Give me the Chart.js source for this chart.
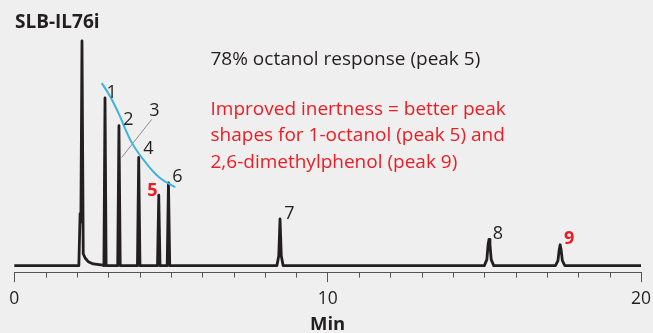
<!DOCTYPE html>
<html><head><meta charset="utf-8">
<script src="https://cdn.jsdelivr.net/npm/chart.js@4.4.1/dist/chart.umd.min.js"></script>
<style>
html,body{margin:0;padding:0;background:#efefef;}
#wrap{width:653px;height:333px;position:relative;}
</style>
</head><body><div id="wrap"><canvas id="c" width="653" height="333"></canvas></div>
<script>
// ---- data (time in min, detector signal in arbitrary units) ----
const traceTime = [0, 2.06, 2.10, 2.125, 2.16, 2.20, 2.26, 2.36, 2.52, 2.83,
  2.86, 2.895, 2.93, 3.30, 3.34, 3.38, 3.93, 3.97, 4.01, 4.57, 4.61, 4.65,
  4.88, 4.92, 4.96, 8.38, 8.44, 8.48, 8.52, 8.58,
  15.0, 15.08, 15.12, 15.15, 15.18, 15.22, 15.3,
  17.27, 17.35, 17.39, 17.42, 17.45, 17.49, 17.57, 20];
const traceSignal = [0, 0, 52.5, 44, 226.5, 12, 7.7, 4, 1.7, 0.4,
  0, 169, 0, 0, 141, 0, 0, 109, 0, 0, 71, 0,
  0, 83.5, 0, 0, 10, 47, 10, 0,
  0, 6, 21, 26.5, 21, 6, 0,
  0, 5, 16, 21, 16, 5, 0, 0];
// response trend curve (blue)
const trendTime = [2.79, 3.055, 3.34, 3.75, 4.23, 4.65, 5.14];
const trendSignal = [184, 170.7, 152.7, 124, 102.4, 88.4, 79];
// leader line for peak 3
const leaderTime = [3.426, 4.384];
const leaderSignal = [109, 147.4];
// peak labels
const peakNames = ['1', '2', '3', '4', '5', '6', '7', '8', '9'];
const highlightedPeaks = ['5', '9'];
const majorTicks = [0, 10, 20];
const chartTitle = 'SLB-IL76i';
const noteBlack = '78% octanol response (peak 5)';
const noteRed = ['Improved inertness = better peak', 'shapes for 1-octanol (peak 5) and', '2,6-dimethylphenol (peak 9)'];
const axisTitle = 'Min';

// ---- layout / style (not data) ----
const labelAnchor = { // label centre in data coordinates
  '1': [3.108, 174], '2': [3.64, 147.4], '3': [4.469, 155.7], '4': [4.277, 117.4],
  '5': [4.405, 75.7], '6': [5.203, 89], '7': [8.778, 51.7], '8': [15.43, 31.7], '9': [17.71, 26.7]
};
const BLACK = '#231f20', RED = '#ed1c24', BLUE = '#3cb4d9', GREY = '#555555';
const FONT = "'Open Sans', sans-serif";

const toXY = (xs, ys) => xs.map((x, i) => ({x: x, y: ys[i]}));

const annotate = {
  id: 'annotate',
  afterDraw(chart) {
    const ctx = chart.ctx, xs = chart.scales.x, ys = chart.scales.y;
    ctx.save();
    // minor ticks
    ctx.strokeStyle = GREY; ctx.lineWidth = 1;
    for (let m = 1; m < 20; m++) {
      if (majorTicks.includes(m)) continue;
      const px = Math.round(xs.getPixelForValue(m)) + 0.5;
      ctx.beginPath(); ctx.moveTo(px, xs.top); ctx.lineTo(px, xs.top + 5.5); ctx.stroke();
    }
    // peak labels
    ctx.textAlign = 'center'; ctx.textBaseline = 'middle';
    peakNames.forEach(n => {
      const a = labelAnchor[n];
      const hi = highlightedPeaks.includes(n);
      ctx.fillStyle = hi ? RED : BLACK;
      ctx.font = (hi ? 'bold ' : '') + '18px ' + FONT;
      ctx.fillText(n, xs.getPixelForValue(a[0]), ys.getPixelForValue(a[1]));
    });
    // texts
    ctx.textAlign = 'left'; ctx.textBaseline = 'alphabetic';
    ctx.fillStyle = BLACK; ctx.font = 'bold 19px ' + FONT;
    ctx.fillText(chartTitle, 15, 28.3);
    ctx.font = '19px ' + FONT;
    ctx.fillText(noteBlack, 210.5, 65);
    ctx.fillStyle = RED;
    noteRed.forEach((t, i) => ctx.fillText(t, 210.5, 115 + i * 26.3));
    ctx.restore();
  }
};

new Chart(document.getElementById('c'), {
  type: 'line',
  data: {
    datasets: [
      {data: toXY(traceTime, traceSignal), borderColor: BLACK, borderWidth: 2.8, pointRadius: 0,
       tension: 0, borderJoinStyle: 'round', borderCapStyle: 'round', order: 2},
      {data: toXY(leaderTime, leaderSignal), borderColor: '#8c8c8c', borderWidth: 1, pointRadius: 0, order: 1},
      {data: toXY(trendTime, trendSignal), borderColor: BLUE, borderWidth: 2, pointRadius: 0,
       tension: 0.4, order: 0}
    ]
  },
  options: {
    responsive: false, animation: false, events: [],
    layout: {padding: {left: 14.3, right: 12, top: 10, bottom: 0}},
    plugins: {legend: {display: false}, tooltip: {enabled: false}},
    scales: {
      x: {
        type: 'linear', min: 0, max: 20,
        afterFit: s => { s.paddingLeft = 0; s.paddingRight = 0; },
        border: {display: true, color: GREY, width: 1},
        grid: {display: true, drawOnChartArea: false, drawTicks: true, tickLength: 10,
               tickColor: c => majorTicks.includes(c.tick && c.tick.value) ? GREY : 'rgba(0,0,0,0)', tickWidth: 1},
        ticks: {stepSize: 1, autoSkip: false, maxRotation: 0, padding: 6.5, color: BLACK,
                font: {family: FONT, size: 17.5},
                callback: v => majorTicks.includes(v) ? String(v) : ''},
        title: {display: true, text: axisTitle, color: BLACK, padding: {top: 0, bottom: 0},
                font: {family: FONT, size: 18.5, weight: 'bold', lineHeight: 0.91}}
      },
      y: {display: false, min: -6.6, max: 257.7}
    }
  },
  plugins: [annotate]
});
</script>
</body></html>
